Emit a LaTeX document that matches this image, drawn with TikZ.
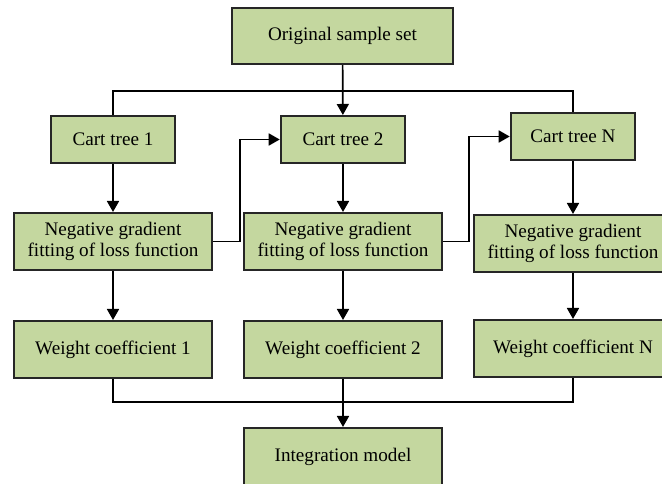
\documentclass[tikz,border=0pt]{standalone}
\usepackage{fontspec}
\setmainfont{Liberation Serif}
\usetikzlibrary{arrows.meta}
\definecolor{boxgreen}{HTML}{C4D79F}
\tikzset{
  green box/.style={
    rectangle, draw=black!85, line width=1.15pt, fill=boxgreen,
    inner sep=0pt, align=center,
    font=\fontsize{10.9}{11.8}\selectfont
  },
  small box/.style={green box, minimum width=2.49cm, minimum height=0.94cm},
  wide box/.style={green box, minimum width=3.96cm, minimum height=1.14cm},
  flow line/.style={line width=0.95pt, black},
  flow arrow/.style={flow line, -{Triangle[length=0.22cm,width=0.24cm]}}
}

\begin{document}
\begin{tikzpicture}
\useasboundingbox (0,0) rectangle (13.24,-9.68);

% top: sample set
\node[green box, minimum width=4.42cm, minimum height=1.12cm] (orig) at (6.85,-0.72) {Original sample set};

% row 1: cart trees
\node[small box] (cart1) at ( 2.26,-2.79) {Cart tree 1};
\node[small box] (cart2) at ( 6.86,-2.79) {Cart tree 2};
\node[small box] (cartN) at (11.46,-2.73) {Cart tree N};

% row 2: negative gradient fitting
\node[wide box] (neg1) at ( 2.26,-4.83) {Negative gradient\\fitting of loss function};
\node[wide box] (neg2) at ( 6.86,-4.83) {Negative gradient\\fitting of loss function};
\node[wide box] (negN) at (11.46,-4.87) {Negative gradient\\fitting of loss function};

% row 3: weight coefficients
\node[wide box] (w1) at ( 2.26,-6.99) {Weight coefficient 1};
\node[wide box] (w2) at ( 6.86,-6.99) {Weight coefficient 2};
\node[wide box] (wN) at (11.46,-6.97) {Weight coefficient N};

% bottom: integration model
\node[wide box] (integ) at (6.86,-9.13) {Integration model};

% buses
\coordinate (topbus) at (6.86,-1.82);
\coordinate (botbus) at (6.86,-8.04);

\draw[flow line] (cart1.north) |- (topbus) -| (cartN.north);
\draw[flow arrow] (orig) -- (cart2);

\draw[flow arrow] (cart1) -- (neg1);
\draw[flow arrow] (cart2) -- (neg2);
\draw[flow arrow] (cartN) -- (negN);

\draw[flow arrow] (neg1.east) -- ++(0.54,0) |- (cart2.west);
\draw[flow arrow] (neg2.east) -- ++(0.52,0) |- (cartN.west);

\draw[flow arrow] (neg1) -- (w1);
\draw[flow arrow] (neg2) -- (w2);
\draw[flow arrow] (negN) -- (wN);

\draw[flow line] (w1.south) |- (botbus) -| (wN.south);
\draw[flow arrow] (w2) -- (integ);

\end{tikzpicture}
\end{document}
